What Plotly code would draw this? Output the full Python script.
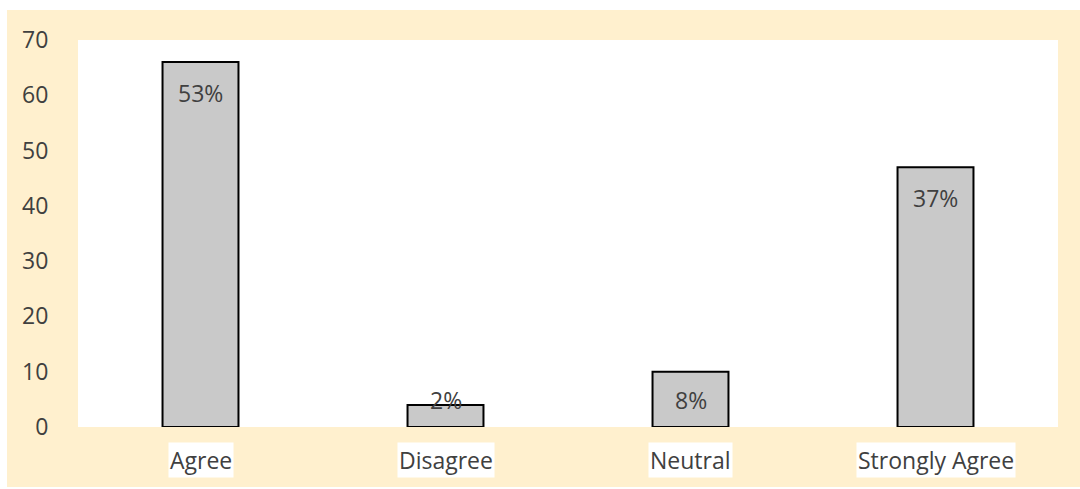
import plotly.graph_objects as go

categories = ['Agree', 'Disagree', 'Neutral', 'Strongly Agree']
counts = [66, 4, 10, 47]
pct_labels = ['53%', '2%', '8%', '37%']
y_ticks = [0, 10, 20, 30, 40, 50, 60, 70]

cream = '#FFF0CE'
text_color = '#404040'
font_family = 'Open Sans'
fsize = 23

# plot area in pixels
W, H = 1080, 489
L, R, T, B = 78, 22, 40, 62
plot_h = H - T - B
y_max = 70

fig = go.Figure()
fig.add_trace(go.Bar(
    x=categories,
    y=counts,
    width=0.31,
    marker=dict(color='#C9C9C9', line=dict(color='black', width=2)),
    hoverinfo='x+y',
))


def px_x(p):
    return (p - L) / (W - L - R)


def px_y(p):
    return (H - B - p) / plot_h


# cream background panel with a thin white border on top/left
fig.add_shape(type='rect', xref='paper', yref='paper', layer='below',
              x0=px_x(7), x1=px_x(W + 5), y0=px_y(487), y1=px_y(10),
              fillcolor=cream, line_width=0)
fig.add_shape(type='rect', xref='paper', yref='paper', layer='below',
              x0=0, x1=1, y0=0, y1=1, fillcolor='white', line_width=0)

# percentage labels near the top of each bar (clamped for short bars)
for cat, val, lab in zip(categories, counts, pct_labels):
    bar_px = val / y_max * plot_h
    shift = -min(31, bar_px - 27)
    fig.add_annotation(x=cat, y=val, text=lab, showarrow=False,
                       yanchor='middle', yshift=shift,
                       font=dict(size=fsize, color=text_color, family=font_family))

# category labels with white boxes
for cat in categories:
    fig.add_annotation(x=cat, y=0, yref='y', text=cat, showarrow=False,
                       yanchor='middle', yshift=-33, bgcolor='white',
                       borderpad=1,
                       font=dict(size=fsize, color=text_color, family=font_family))

fig.update_layout(
    width=W,
    height=H,
    margin=dict(l=L, r=R, t=T, b=B),
    paper_bgcolor='white',
    plot_bgcolor='white',
    showlegend=False,
    font=dict(family=font_family, size=fsize, color=text_color),
    xaxis=dict(showticklabels=False, showgrid=False, showline=False,
               zeroline=False, ticks=''),
    yaxis=dict(range=[0, y_max], tickvals=y_ticks, showgrid=False,
               showline=False, zeroline=False, ticks='outside', ticklen=0,
               ticklabelstandoff=24,
               tickfont=dict(size=fsize, color=text_color, family=font_family)),
)

fig.write_html('out.html', config={'displayModeBar': False},
               post_script="document.body.style.margin='0';")
